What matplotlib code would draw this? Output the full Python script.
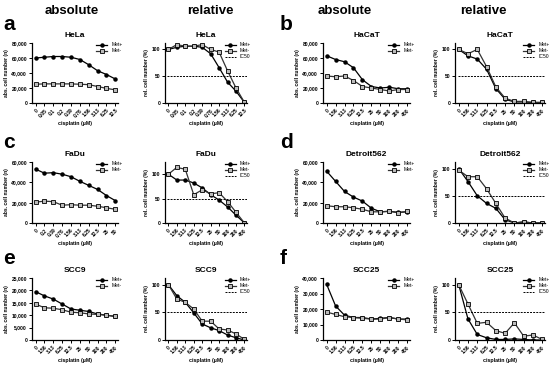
import matplotlib
matplotlib.use('Agg')
import matplotlib.pyplot as plt
from matplotlib.ticker import FuncFormatter

plt.rcParams['font.family'] = ['Liberation Sans', 'DejaVu Sans']

# concentrations (tick labels)
conc_hela = ['0', '0.05', '0.1', '0.2', '0.39', '0.78', '1.56', '3.13', '6.25', '12.5']
conc_fadu_abs = ['0', '0.2', '0.39', '0.78', '1.56', '3.13', '6.25', '12.5', '25', '50']
conc_wide = ['0', '1.56', '3.13', '6.25', '12.5', '25', '50', '100', '200', '400']

# HeLa
hela_abs_pos = [60000, 61000, 62000, 62000, 61000, 58000, 51000, 43000, 38000, 32000]
hela_abs_neg = [25000, 25500, 25500, 25500, 25500, 25000, 24500, 22000, 19500, 17500]
hela_rel_pos = [100, 104, 106, 106, 104, 92, 66, 39, 22, 1]
hela_rel_neg = [100, 109, 106, 106, 109, 100, 95, 60, 28, 1]

# HaCaT
hacat_abs_pos = [63000, 58000, 55000, 47000, 31000, 22000, 20000, 21000, 19000, 19000]
hacat_abs_neg = [36000, 35000, 36000, 30000, 22000, 20000, 18000, 16000, 18000, 18000]
hacat_rel_pos = [100, 88, 82, 63, 27, 7, 2, 2, 1, 1]
hacat_rel_neg = [100, 92, 100, 68, 30, 9, 3, 3, 1, 1]

# FaDu
fadu_abs_pos = [53000, 49000, 49500, 48000, 45500, 41000, 37000, 33000, 27000, 22000]
fadu_abs_neg = [20500, 21500, 21000, 17500, 18000, 17500, 17500, 16500, 15000, 13500]
fadu_rel_pos = [100, 88, 88, 82, 72, 58, 47, 33, 16, 0]
fadu_rel_neg = [100, 114, 110, 58, 68, 60, 62, 44, 22, 0]

# Detroit562
det_abs_pos = [51000, 41000, 31000, 25500, 21500, 14500, 11000, 11500, 10500, 11000]
det_abs_neg = [17000, 16000, 16000, 15000, 13500, 11000, 11000, 11500, 10000, 11500]
det_rel_pos = [100, 76, 50, 36, 27, 6, 0, 2, 0, 0]
det_rel_neg = [97, 85, 85, 63, 36, 9, 0, 2, 0, 0]

# SCC9
scc9_abs_pos = [19500, 17800, 16500, 14500, 12500, 12000, 11500, 10500, 10000, 9500]
scc9_abs_neg = [14500, 13000, 12800, 12200, 11200, 11000, 10500, 10300, 10000, 9500]
scc9_rel_pos = [100, 80, 68, 49, 29, 22, 17, 9, 4, 0]
scc9_rel_neg = [100, 74, 68, 56, 34, 34, 20, 18, 11, 1]

# SCC25
scc25_abs_pos = [36000, 22000, 16000, 14500, 14500, 13500, 14000, 14500, 13500, 13500]
scc25_abs_neg = [18000, 16500, 15000, 14500, 14000, 13500, 13500, 14500, 13500, 13000]
scc25_rel_pos = [100, 38, 10, 4, 1, 1, 2, 1, 0, 0]
scc25_rel_neg = [100, 65, 30, 32, 17, 12, 31, 7, 9, 1]

W, H = 550, 366
fig = plt.figure(figsize=(W / 100, H / 100), dpi=100)


def px_axes(x0, y0, x1, y1):
    return fig.add_axes([x0 / W, 1 - y1 / H, (x1 - x0) / W, (y1 - y0) / H])


def style(ax, title, labels, ylabel):
    for s in ['top', 'right']:
        ax.spines[s].set_visible(False)
    for s in ['left', 'bottom']:
        ax.spines[s].set_linewidth(0.9)
    ax.set_xticks(range(len(labels)))
    ax.set_xticklabels(labels, rotation=45, ha='right', rotation_mode='anchor',
                       fontsize=3.5, fontweight='bold')
    ax.tick_params(axis='both', length=2, width=0.7, pad=1.5, labelsize=3.6)
    for t in ax.get_yticklabels():
        t.set_fontweight('bold')
    ax.set_xlim(-0.4, len(labels) - 0.7)
    ax.set_title(title, fontsize=6, fontweight='bold', pad=4)
    ax.set_xlabel('cisplatin (µM)', fontsize=3.8, fontweight='bold', labelpad=2)
    ax.set_ylabel(ylabel, fontsize=3.6, fontweight='bold', labelpad=2)


def draw(ax, pos, neg, rel):
    x = range(len(pos))
    ax.plot(x, pos, color='black', lw=0.9, marker='o', ms=2.2, mfc='black', mec='black', label='Met+')
    ax.plot(x, neg, color='#333333', lw=0.9, marker='s', ms=2.4, mfc='#bbbbbb', mec='black',
            mew=0.6, label='Met-')
    if rel:
        ax.axhline(50, color='black', lw=0.7, ls=(0, (2, 1.2)), xmin=0.03, xmax=1.0, label='IC50')
    ax.legend(loc='upper right', fontsize=3.6, frameon=False, handlelength=2.2,
              borderaxespad=0.1, labelspacing=0.2, bbox_to_anchor=(1.08, 1.05))


def abs_panel(box, title, labels, pos, neg, ymax, step):
    ax = px_axes(*box)
    draw(ax, pos, neg, False)
    ax.set_ylim(0, ymax)
    ax.set_yticks(range(0, ymax + 1, step))
    ax.yaxis.set_major_formatter(FuncFormatter(lambda v, p: f'{int(v):,}'))
    style(ax, title, labels, 'abs. cell number (n)')


def rel_panel(box, title, labels, pos, neg, ymax=112):
    ax = px_axes(*box)
    draw(ax, pos, neg, True)
    ax.set_ylim(0, ymax)
    ax.set_yticks([0, 50, 100])
    style(ax, title, labels, 'rel. cell number (%)')


rows = [(43, 103), (162, 223), (278, 340)]
cols = [(32, 118), (165, 247), (323, 410), (455, 545)]

abs_panel((cols[0][0], rows[0][0], cols[0][1], rows[0][1]), 'HeLa', conc_hela,
          hela_abs_pos, hela_abs_neg, 80000, 20000)
rel_panel((cols[1][0], rows[0][0], cols[1][1], rows[0][1]), 'HeLa', conc_hela,
          hela_rel_pos, hela_rel_neg)
abs_panel((cols[2][0], rows[0][0], cols[2][1], rows[0][1]), 'HaCaT', conc_wide,
          hacat_abs_pos, hacat_abs_neg, 80000, 20000)
rel_panel((cols[3][0], rows[0][0], cols[3][1], rows[0][1]), 'HaCaT', conc_wide,
          hacat_rel_pos, hacat_rel_neg)

abs_panel((cols[0][0], rows[1][0], cols[0][1], rows[1][1]), 'FaDu', conc_fadu_abs,
          fadu_abs_pos, fadu_abs_neg, 60000, 20000)
rel_panel((cols[1][0], rows[1][0], cols[1][1], rows[1][1]), 'FaDu', conc_wide,
          fadu_rel_pos, fadu_rel_neg, ymax=125)
abs_panel((cols[2][0], rows[1][0], cols[2][1], rows[1][1]), 'Detroit562', conc_wide,
          det_abs_pos, det_abs_neg, 60000, 20000)
rel_panel((cols[3][0], rows[1][0], cols[3][1], rows[1][1]), 'Detroit562', conc_wide,
          det_rel_pos, det_rel_neg)

abs_panel((cols[0][0], rows[2][0], cols[0][1], rows[2][1]), 'SCC9', conc_wide,
          scc9_abs_pos, scc9_abs_neg, 25000, 5000)
rel_panel((cols[1][0], rows[2][0], cols[1][1], rows[2][1]), 'SCC9', conc_wide,
          scc9_rel_pos, scc9_rel_neg)
abs_panel((cols[2][0], rows[2][0], cols[2][1], rows[2][1]), 'SCC25', conc_wide,
          scc25_abs_pos, scc25_abs_neg, 40000, 10000)
rel_panel((cols[3][0], rows[2][0], cols[3][1], rows[2][1]), 'SCC25', conc_wide,
          scc25_rel_pos, scc25_rel_neg)

# column headers and panel letters
for xc, txt in [(72, 'absolute'), (210, 'relative'), (345, 'absolute'), (483, 'relative')]:
    fig.text(xc / W, 1 - 11 / H, txt, ha='center', va='center', fontsize=9.5, fontweight='bold')
for xl, yl, letter in [(3, 25, 'a'), (280, 25, 'b'), (3, 142, 'c'), (280, 142, 'd'),
                       (3, 258, 'e'), (280, 258, 'f')]:
    fig.text(xl / W, 1 - yl / H, letter, ha='left', va='center', fontsize=15, fontweight='bold')

fig.savefig('out.png', dpi=100)
